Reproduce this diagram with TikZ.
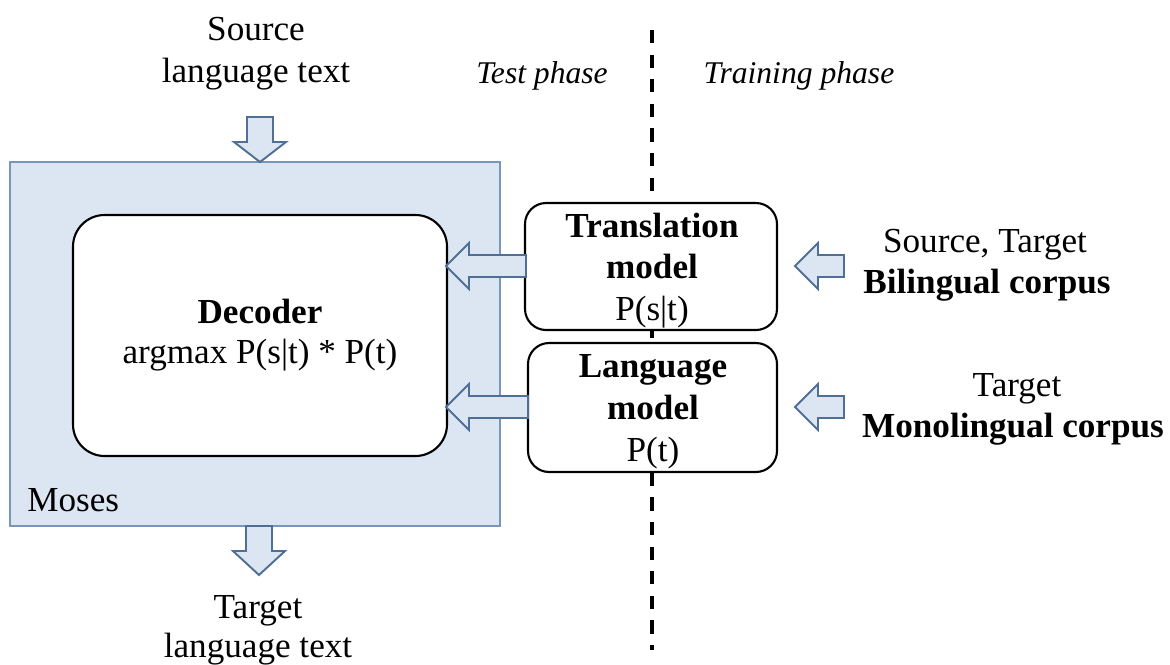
\documentclass[tikz,border=0pt]{standalone}
\usepackage{fontspec}
\setmainfont{Liberation Serif}
\definecolor{mosesfill}{RGB}{220,230,242}
\definecolor{mosesline}{RGB}{120,150,188}
\definecolor{arrline}{RGB}{79,111,150}
\newcommand{\leftblock}[4]{% tip x, y, tail x, name
  \filldraw[barrow] (#1,#2) -- (#1+23,#2-23) -- (#1+23,#2-11) -- (#3,#2-11)
    -- (#3,#2+11) -- (#1+23,#2+11) -- (#1+23,#2+23) -- cycle;
  \coordinate (#4) at (#1,#2);}
\newcommand{\downblock}[5]{% center x, top y, head y, tip y, name
  \filldraw[barrow] (#1-13,#2) -- (#1+13,#2) -- (#1+13,#3) -- (#1+26,#3)
    -- (#1,#4) -- (#1-26,#3) -- (#1-13,#3) -- cycle;
  \coordinate (#5) at (#1,#4);}
\begin{document}
\begin{tikzpicture}[x=0.02cm,y=-0.02cm,
  txt/.style={font=\fontsize{20}{24}\selectfont, anchor=base, inner sep=0pt},
  btxt/.style={txt, font=\fontsize{20}{24}\selectfont\bfseries},
  itxt/.style={txt, font=\fontsize{18}{22}\selectfont\itshape},
  barrow/.style={fill=mosesfill, draw=arrline, line width=1.1pt, line join=miter},
  rbox/.style={draw=black, fill=white, line width=1.2pt, rounded corners=#1},
]
\useasboundingbox (0,0) rectangle (1170,664);

% dashed separator
\coordinate (dtop) at (652,30);
\coordinate (dbot) at (652,650);
\draw[line width=2pt, dash pattern=on 7.5pt off 6.5pt] (dtop) -- (dbot);

% Moses container
\draw[fill=mosesfill, draw=mosesline, line width=1.1pt] (10,162) rectangle (500,526);
\coordinate (mosesN) at (260,162);
\node[txt, anchor=base west] (moses) at (27,511) {Moses};

% Decoder
\draw[rbox=18pt] (73,215) rectangle (447,456);
\coordinate (decE) at (447,336);
\node[btxt] (dec1) at (260,323) {Decoder};
\node[txt] (dec2) at (260,363) {argmax P(s|t) * P(t)};

% Translation model
\draw[rbox=12pt] (525,203) rectangle (777,330);
\node[btxt] (tm1) at (652,237) {Translation};
\node[btxt] (tm2) at (652,278) {model};
\node[txt] (tm3) at (652,320) {P(s|t)};

% Language model
\draw[rbox=12pt] (528,343) rectangle (777,472);
\node[btxt] (lm1) at (653,377) {Language};
\node[btxt] (lm2) at (653,419) {model};
\node[txt] (lm3) at (653,461) {P(t)};

% phases
\node[itxt] (test) at (542,83) {Test phase};
\node[itxt] (train) at (799,83) {Training phase};

% source / target text
\node[txt] (src1) at (256,40) {Source};
\node[txt] (src2) at (256,82) {language text};
\node[txt] (tgt1) at (258,618) {Target};
\node[txt] (tgt2) at (258,657) {language text};

% corpora
\node[txt] (bi1) at (985,252) {Source, Target};
\node[btxt] (bi2) at (987,293) {Bilingual corpus};
\node[txt] (mo1) at (1017,396) {Target};
\node[btxt] (mo2) at (1013,437) {Monolingual corpus};

% block arrows
\downblock{260}{117}{142}{162}{inTip}
\downblock{259}{526}{551}{575}{outTip}
\leftblock{446}{266}{526}{tmTip}
\leftblock{446}{407}{528}{lmTip}
\leftblock{795}{266}{844}{biTip}
\leftblock{795}{407}{844}{moTip}
\end{tikzpicture}
\end{document}
